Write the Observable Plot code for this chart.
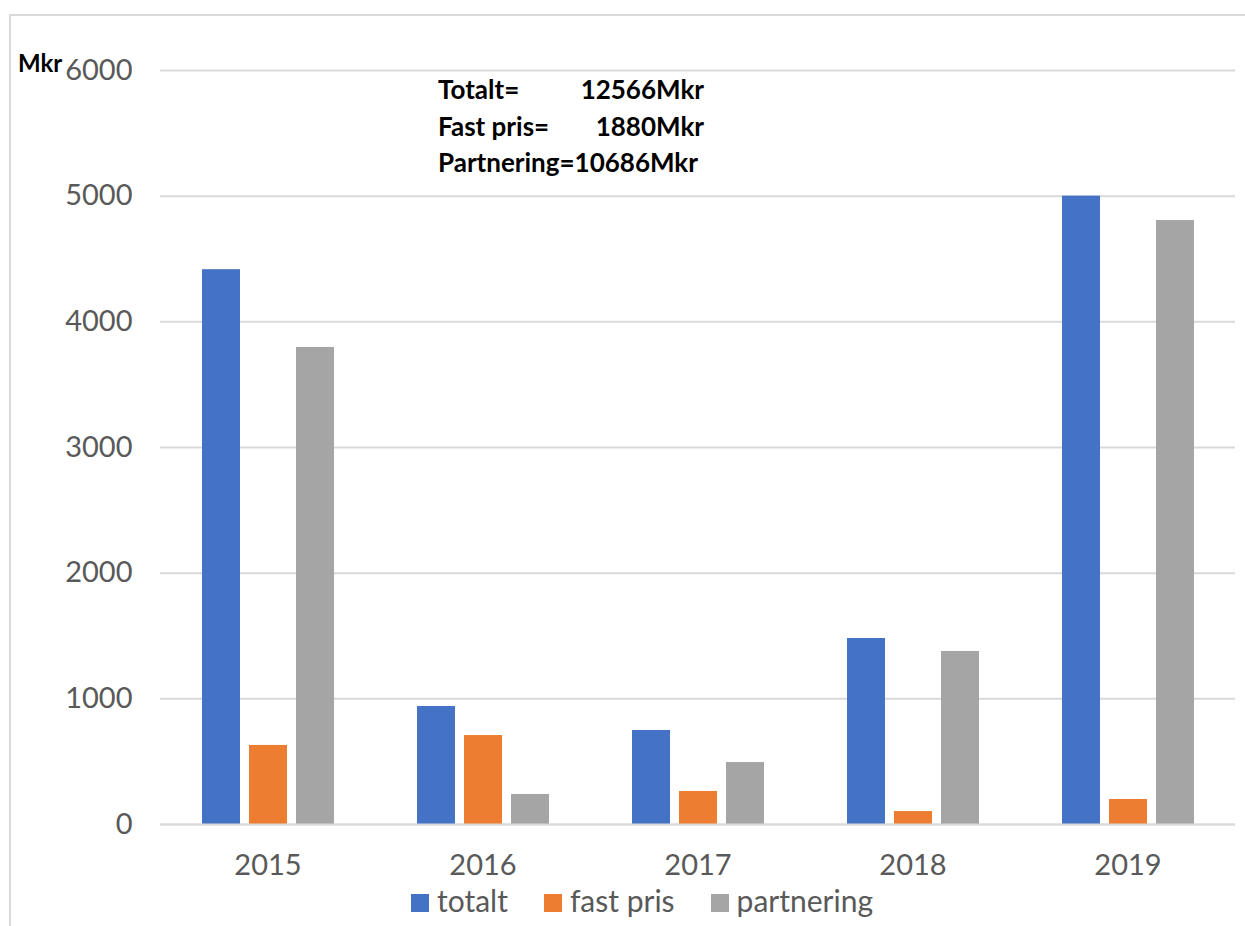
<!DOCTYPE html>
<html>
<head>
<meta charset="utf-8">
<script src="https://cdn.jsdelivr.net/npm/d3@7"></script>
<script src="https://cdn.jsdelivr.net/npm/@observablehq/plot@0.6"></script>
<style>
  html, body { margin: 0; padding: 0; background: #fff; }
  body { width: 1245px; height: 926px; position: relative; overflow: hidden; font-family: Lato, "Open Sans", sans-serif; }
  #frame { position: absolute; left: 9px; top: 14px; width: 1300px; height: 1000px; border-top: 2px solid #d9d9d9; border-left: 2px solid #d9d9d9; }
  #chart { position: absolute; left: 0; top: 0; }
  #mkr { position: absolute; left: 18px; top: 49px; font: bold 24px Lato, sans-serif; color: #000; line-height: 1.2; }
  #note { position: absolute; left: 438px; top: 71px; width: 266px; font: bold 26px Lato, sans-serif; color: #000; line-height: 36.5px; display: grid; grid-template-columns: auto auto; }
  #note .v { text-align: right; }
  #note .full { grid-column: 1 / 3; white-space: nowrap; }
  #legend { position: absolute; left: 411px; top: 882px; font-size: 30px; line-height: 1.2; color: #595959; white-space: nowrap; }
  #legend .item { display: inline-block; margin-right: 36px; }
  #legend .sw { display: inline-block; width: 18px; height: 18px; margin-right: 8px; }
</style>
</head>
<body>
<div id="frame"></div>
<div id="chart"></div>
<div id="mkr"></div>
<div id="note"></div>
<div id="legend"></div>
<script>
const years = ["2015", "2016", "2017", "2018", "2019"];
const seriesNames = ["totalt", "fast pris", "partnering"];
const totalt = [4415, 939, 748, 1480, 5000];
const fastPris = [629, 708, 263, 103, 199];
const partnering = [3796, 239, 493, 1377, 4806];
const colors = ["#4472C4", "#ED7D31", "#A5A5A5"];
const yTicks = [0, 1000, 2000, 3000, 4000, 5000, 6000];
const yUnit = "Mkr";
const noteLabels = ["Totalt=", "Fast pris=", "Partnering="];
const noteValues = ["12566Mkr", "1880Mkr", "10686Mkr"];

const seriesValues = [totalt, fastPris, partnering];
const data = [];
years.forEach((yr, i) => {
  seriesNames.forEach((s, j) => {
    data.push({year: yr, series: s, value: seriesValues[j][i]});
  });
});

const chart = Plot.plot({
  width: 1245,
  height: 890,
  marginLeft: 158,
  marginRight: 8,
  marginTop: 70,
  marginBottom: 66,
  style: {fontFamily: "Lato, 'Open Sans', sans-serif", fontSize: "29px", color: "#595959", background: "transparent", overflow: "visible"},
  fx: {domain: years, padding: 0, label: null, tickSize: 0, tickPadding: 30},
  x: {domain: seriesNames, paddingInner: 0.2, paddingOuter: 0.85, axis: null},
  y: {domain: [0, 6000], ticks: yTicks, tickSize: 0, tickPadding: 28, label: null, tickFormat: d => String(d)},
  color: {domain: seriesNames, range: colors},
  marks: [
    Plot.gridY(yTicks, {stroke: "#d9d9d9", strokeOpacity: 1, strokeWidth: 2}),
    Plot.barY(data, {fx: "year", x: "series", y: "value", fill: "series"}),
    Plot.ruleY([0], {stroke: "#d9d9d9", strokeWidth: 2})
  ]
});
document.getElementById("chart").appendChild(chart);

document.getElementById("mkr").textContent = yUnit;

const note = document.getElementById("note");
noteLabels.forEach((l, i) => {
  if (i === noteLabels.length - 1) {
    const c = document.createElement("span"); c.className = "full"; c.textContent = l + noteValues[i]; note.appendChild(c);
  } else {
    const a = document.createElement("span"); a.textContent = l; note.appendChild(a);
    const b = document.createElement("span"); b.className = "v"; b.textContent = noteValues[i]; note.appendChild(b);
  }
});

const legend = document.getElementById("legend");
seriesNames.forEach((s, i) => {
  const item = document.createElement("span"); item.className = "item";
  const sw = document.createElement("span"); sw.className = "sw"; sw.style.background = colors[i];
  item.appendChild(sw);
  item.appendChild(document.createTextNode(s));
  legend.appendChild(item);
});
</script>
</body>
</html>
